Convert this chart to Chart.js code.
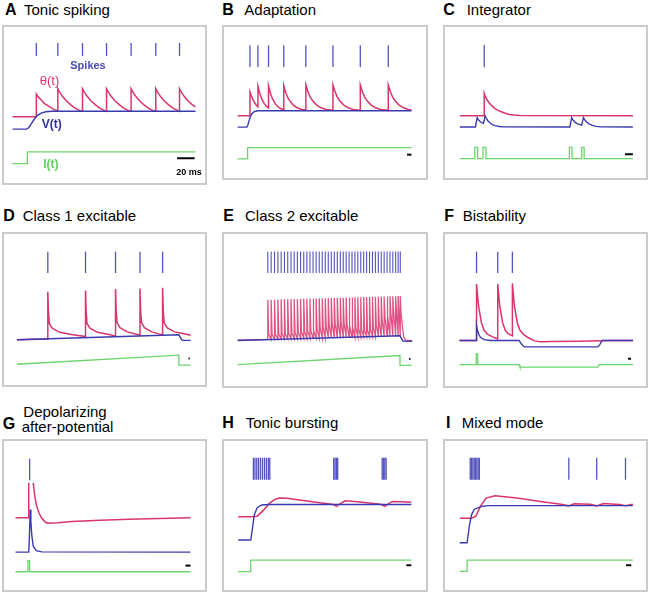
<!DOCTYPE html>
<html>
<head>
<meta charset="utf-8">
<script src="https://cdn.jsdelivr.net/npm/chart.js@4.4.1/dist/chart.umd.min.js"></script>
<style>
    html, body { margin: 0; padding: 0; background: #fff; }
    #fig { position: relative; width: 650px; height: 594px; overflow: hidden;
           font-family: "Liberation Sans", Arial, Helvetica, sans-serif; color: #000; }
    .box { position: absolute; box-sizing: border-box; border: 2px solid #cbcbcb; }
    .box canvas { position: absolute; left: -2px; top: -2px; }
    .lt { position: absolute; font-size: 16px; line-height: 16px; font-weight: bold; white-space: nowrap; }
    .tt { position: absolute; font-size: 15px; line-height: 15px; white-space: nowrap; }
    .lab { position: absolute; font-weight: bold; white-space: nowrap; transform: translate(-50%, -50%); }
</style>
</head>
<body>
<div id="fig"></div>
<script>
// Traces: [time, level] pairs, time in panel units (A: 1 unit = 1 ms), level in arbitrary units

// A - Tonic spiking
const spikesA = [28.7, 52, 78.7, 104.7, 131.3, 158, 183.7];
const thetaA = [[3,67],[28.7,67],[28.7,92],[30.7,89.2],[33.7,85.7],[37.7,81.5],[42.7,78.1],[47.7,75.2],[52,73.5],
    [52,98],[54,94.3],[57,89.6],[61,84.6],[66,80.2],[71,76.3],[76,73.8],[78.7,73],
    [78.7,98],[80.7,94.3],[83.7,89.6],[87.7,84.6],[92.7,80.2],[97.7,76.3],[102.7,73.8],[104.7,73],
    [104.7,98],[106.7,94.3],[109.7,89.6],[113.7,84.6],[118.7,80.2],[123.7,76.3],[128.7,73.8],[131.3,73],
    [131.3,98],[133.3,94.3],[136.3,89.6],[140.3,84.6],[145.3,80.2],[150.3,76.3],[155.3,73.8],[158,73],
    [158,98],[160,94.3],[163,89.6],[167,84.6],[172,80.2],[177,76.3],[182,73.8],[183.7,73],
    [183.7,98],[185.7,94.3],[188.7,89.6],[192.7,84.6],[197.7,80.2],[201,78]];
const vA = [[3,53.3],[18,53.3],[20,54.5],[22,57],[24,60.5],[27,65],[30,68.5],[34,71],[39,72.5],[45,73],[201,73]];
const iA = [[3,15],[19,15],[19,28],[201,28]];
const barA = [[181,21],[200,21]];

// B - Adaptation
const spikesB = [18, 27, 39, 56.3, 81.3, 112, 143, 174.7];
const thetaB = [[4,61.7],[18,61.7],[18,90],[19,87],[20.5,83],[22.5,78.5],[25,74.5],[27,72.5],
    [27,96.7],[28,92.5],[29.5,87],[31.5,81.5],[34,76.5],[36.5,73],[39,71],
    [39,97.3],[40,93],[41.5,87.5],[43.5,82],[46,77],[49,73],[52.5,70.3],[56.3,69],
    [56.3,97.5],[57.3,93.5],[58.8,88.5],[61,83],[64,78],[67.5,74],[72,71],[77,69.2],[81.3,68.5],
    [81.3,98.3],[82.3,95],[83.8,90],[86,84.5],[89,79.5],[93,75],[98,71.5],[104,69.3],[112,68.2],
    [112,98.3],[113,95],[114.5,90],[116.7,84.5],[119.7,79.5],[123.7,75],[128.7,71.5],[134.7,69.3],[143,68.2],
    [143,98.3],[144,95],[145.5,90],[147.7,84.5],[150.7,79.5],[154.7,75],[159.7,71.5],[165.7,69.3],[174.7,68.2],
    [174.7,98.3],[175.7,95],[177.2,90],[179.4,84.5],[182.4,79.5],[186.4,75],[191.4,71.5],[197.4,69.3],[201,68.7]];
const vB = [[4,48.3],[14.5,48.3],[15.5,50.5],[17,56],[18.5,61],[20,64],[22,66],[24.5,67.2],[27,67.7],[201,67.7]];
const iB = [[4,10.7],[15.3,10.7],[15.3,24],[201,24]];
const barB = [[196,15.7],[201,15.7]];

// C - Integrator
const spikesC = [32.7];
const thetaC = [[5,61.7],[32.7,61.7],[32.7,88.3],[34,84.5],[36,80.5],[38.5,77],[41,74],[45,70.3],[50,67.3],
    [55,65.2],[60,63.6],[66,62.5],[73,61.9],[202,61.7]];
const vC = [[5,48.3],[22.7,48.3],[23.7,54],[24.7,59.3],[26,57],[28,54.8],[30,53.5],[31.7,52.8],[32.7,56],[33.7,61.5],
    [35,59],[37,55.5],[39.5,53],[42,51.2],[45,50],[50,48.8],[55,48.4],[130.3,48.3],[131.3,54],[132.3,59.5],
    [133.5,57],[136,54],[139,52],[143.7,50.5],[144.7,55],[145.7,59.5],[147,57],[149,54.5],[152,52],[156,50.2],
    [160,49],[165,48.4],[202,48.3]];
const iC = [[5,10.7],[22,10.7],[22,24],[25.3,24],[25.3,10.7],[31.3,10.7],[31.3,24],[34.7,24],[34.7,10.7],
    [129.7,10.7],[129.7,24],[132.7,24],[132.7,10.7],[143.7,10.7],[143.7,24],[146.5,24],[146.5,10.7],[202,10.7]];
const barC = [[193,15.7],[202,15.7]];

// D - Class 1 excitable
const spikesD = [38.3, 81, 115, 142.7, 168.3];
const thetaD = [[3.3,41.7],[38.3,42.5],[38.3,98.4],[39,76],[40,61],[43.3,55.5],[51.7,50.5],[65,47.8],[81,45.5],
    [81,100],[81.7,76],[82.7,61],[86,55.5],[94.4,50.5],[107.7,47.8],[115,46],
    [115,101.7],[115.7,77],[116.7,62],[120,56],[128.4,51],[142.7,47],
    [142.7,102.3],[143.4,77],[144.4,62],[147.7,56],[156,51],[168.3,47.5],
    [168.3,103.3],[169,77],[170,62],[173.3,56],[181.7,51],[190,49.5],[200,47]];
const vD = [[3.3,41.7],[186.7,47.7],[188,45],[190,41.5],[192,41],[200,41]];
const iD = [[3.3,12.7],[186.7,23.4],[186.7,11.7],[200,11.7]];
const barD = [[197.6,19.4],[199,19.4]];

// E - Class 2 excitable: one row per spike [time, floor, peak, tail]
const spikeRowsE = [
    [38.4,43.4,90.0,49],[42.2,43.5,90.1,49],[46.0,43.6,90.2,49.5],[49.8,43.7,90.3,49.5],[53.5,43.8,90.5,50],
    [57.2,43.9,90.6,50],[60.9,44.0,90.7,50.5],[64.6,44.1,90.8,50.5],[68.2,44.2,90.9,51],[71.8,44.3,91.0,51.5],
    [75.4,44.4,91.1,52],[79.0,44.6,91.2,52.5],[82.5,44.7,91.3,53],[86.0,44.8,91.4,53.5],[89.5,44.9,91.5,54],
    [93.0,45.0,91.6,55],[96.5,45.1,91.7,56],[99.9,45.2,91.8,57],[103.3,45.3,91.9,58.5],[106.7,45.4,92.0,60],
    [110.1,45.5,92.1,61],[113.5,45.6,92.2,61.5],[116.9,45.7,92.3,62],[120.3,45.8,92.4,62],[123.6,45.9,92.5,61.5],
    [126.9,46.0,92.6,61],[130.2,46.1,92.7,60],[133.5,46.2,92.8,58.5],[136.8,46.3,92.9,57],[140.1,46.4,93.0,55.5],
    [143.4,46.5,93.1,54.5],[146.7,46.6,93.2,54],[150.0,46.7,93.3,54],[153.3,46.8,93.4,55],[156.6,46.9,93.5,57],
    [159.9,47.0,93.6,60],[163.2,47.1,93.7,63],[166.5,47.2,93.8,66],[169.8,47.3,93.9,69],[173.1,47.4,94.0,72],
    [176.4,47.5,94.1,74],[179.6,47.6,94.2,75],[182.8,47.6,94.3,75],[185.6,47.7,94.4,74],[188.0,47.7,94.4,72]];
const thetaStartE = [[4.4,42.5]];
const thetaEndE = [[190.5,58],[192,46],[194,42.5],[201.5,42]];
const vE = [[4.4,42],[187.7,47.7],[189.5,44],[191,41.5],[201.5,41]];
const iE = [[4.4,13.7],[187.7,24.4],[187.7,12.7],[200.5,12.7]];
const barE = [[198,20.4],[199.5,20.4]];

// F - Bistability
const spikesF = [24.4, 48.4, 65];
const thetaF = [[5,42],[24.4,42],[24.4,108.7],[25.5,96],[26.7,82.7],[30,62.7],[33,54],[36.7,49.4],[42,46.5],[48.4,43.7],
    [48.4,108.7],[49.5,96],[50.7,82.7],[54,62.7],[57,54],[60,50],[65,47.5],
    [65,109.4],[66.1,96],[67.3,82.7],[70.6,62.7],[73.6,54],[77.3,49.4],[82.6,45.5],[90,41.5],[97,40.6],
    [110,40.7],[140,41],[165,41.7],[175,42],[201.7,42]];
const vF = [[5,42],[24.4,42],[24.4,59.4],[25.5,54],[27,49],[29,45.5],[33,43],[40,42],[72.7,42],[75,38],[78.4,34.4],
    [161.7,34.4],[164,37],[166.7,42],[201.7,42]];
const iF = [[5,13.4],[24,13.4],[24,26],[25.7,26],[25.7,13.4],[72.7,13.4],[73.6,10.4],[161.7,10.4],[163.4,13.4],[201.7,13.4]];
const barF = [[196,20.4],[199.4,20.4]];

// G - Depolarizing after-potential (null = trace leaves the panel)
const spikesG = [17.6];
const thetaG = [[1.6,73.7],[16.6,73.7],[16.6,115.3],null,[21.7,115.3],[23,103],[25,90],[28,80],[31,73.7],[35,69],
    [38,67.3],[50,67.8],[65,69.3],[98,71],[130,72],[165,73],[200,73.7]];
const vG = [[1.6,33],[16.6,33],[17.3,50],[18.3,83.7],[19,70],[20,53.7],[21.6,40.3],[25,34.7],[31.6,33.3],[200,33]];
const iG = [[1.6,9.7],[15.7,9.7],[15.7,23],[17.6,23],[17.6,9.7],[200,9.7]];
const barG = [[194.3,17],[200,17]];

// H - Tonic bursting
const spikesH = [21.7, 23.5, 25.5, 27.5, 29.7, 32, 34.3, 36.5, 38.7, 40.3,
    112.9, 114.4, 115.9, 117.4, 167.9, 169.4, 170.9, 172.4];
const thetaH = [[4.4,75],[19.4,75],[26,75.7],[32.7,82.3],[39.4,90.6],[46,95.6],[51,97.3],[60,97],[76,94.7],[95,92],
    [112.7,89.6],[116,87.3],[118.5,89.5],[126,94],[140,93],[166,90],[171,87.3],[173.5,89.5],[179.4,93.3],[190,93],[201,92.3]];
const vH = [[4.4,47.3],[18.7,47.3],[21,64],[22.7,77.3],[26,85.7],[31,89],[39.4,89.6],[201,89.6]];
const iH = [[4.4,9.6],[18.7,9.6],[18.7,23.3],[201,23.3]];
const barH = [[195.4,17.3],[201,17.3]];

// I - Mixed mode
const spikesI = [17, 18.5, 20, 21.5, 23, 24.5, 26, 27.3, 129, 160.7, 193.4];
const thetaI = [[5,73.3],[18.4,73.3],[23.4,75.6],[28.4,87.3],[35,97.3],[45,100],[70,97.3],[96.7,93.3],[120,90],[129,88],
    [135,90.5],[153.4,90],[160.7,88],[168.4,90.7],[186.7,89.7],[193.4,88],[201.7,90]];
const vI = [[5,44],[13.4,44],[16,64],[18.4,77.3],[21.7,84],[30,87.3],[36.7,88.3],[201.7,88.3]];
const iI = [[5,10],[13.4,10],[13.4,23.3],[201.7,23.3]];
const barI = [[194,17.3],[200,17.3]];

// Colours
const COL_THETA = '#d9346e';
const COL_SPIKE = '#5353c0';
const COL_V = '#3a3aae';
const COL_I = '#6dd36d';

// E threshold trace built from its spike table
const thetaE = [...thetaStartE];
spikeRowsE.forEach(([t, floor, peak, tail]) => {
    thetaE.push([t, floor], [t, peak], [t + 1, tail]);
});
thetaE.push(...thetaEndE);

// Panel layout (box position/size in page pixels)
const panels = [
    { letter: 'A', title: ['Tonic spiking'], x: 2, y: 25, w: 205, h: 160, spikes: spikesA, spikeY: 141.5, spikeR: 6.5,
      theta: thetaA, v: vA, i: iA, bar: barA, letterPos: [5, 1.5], titlePos: [[24, 2.3]] },
    { letter: 'B', title: ['Adaptation'], x: 222, y: 25, w: 206, h: 155, spikes: spikesB, spikeY: 132.5, spikeR: 10.8,
      theta: thetaB, v: vB, i: iB, bar: barB, letterPos: [222.3, 1.5], titlePos: [[244.3, 2.3]] },
    { letter: 'C', title: ['Integrator'], x: 443, y: 25, w: 205, h: 155, spikes: spikesC, spikeY: 132.8, spikeR: 11.2,
      theta: thetaC, v: vC, i: iC, bar: barC, letterPos: [443.3, 1.5], titlePos: [[466.7, 2.3]] },
    { letter: 'D', title: ['Class 1 excitable'], x: 2, y: 232, w: 205, h: 155, spikes: spikesD, spikeY: 133.3, spikeR: 10.7,
      theta: thetaD, v: vD, i: iD, bar: barD, letterPos: [3.3, 207.5], titlePos: [[22.7, 208.3]] },
    { letter: 'E', title: ['Class 2 excitable'], x: 222, y: 232, w: 206, h: 156, spikes: spikeRowsE.map(r => r[0]), spikeY: 134.3, spikeR: 10.7,
      theta: thetaE, v: vE, i: iE, bar: barE, letterPos: [223.3, 207.5], titlePos: [[245, 208.3]], thin: true },
    { letter: 'F', title: ['Bistability'], x: 443, y: 232, w: 205, h: 156, spikes: spikesF, spikeY: 134.3, spikeR: 10.7,
      theta: thetaF, v: vF, i: iF, bar: barF, letterPos: [444.3, 207.5], titlePos: [[462.7, 208.3]] },
    { letter: 'G', title: ['Depolarizing', 'after-potential'], x: 2, y: 439, w: 205, h: 153, spikes: spikesG, spikeY: 131.2, spikeR: 10.8,
      theta: thetaG, v: vG, i: iG, bar: barG, letterPos: [2.7, 415.5], titlePos: [[23.3, 403.8], [21.7, 419.3]] },
    { letter: 'H', title: ['Tonic bursting'], x: 222, y: 439, w: 206, h: 153, spikes: spikesH, spikeY: 132.3, spikeR: 11,
      theta: thetaH, v: vH, i: iH, bar: barH, letterPos: [222.3, 414.5], titlePos: [[245.7, 415.3]] },
    { letter: 'I', title: ['Mixed mode'], x: 443, y: 439, w: 205, h: 153, spikes: spikesI, spikeY: 132.3, spikeR: 11,
      theta: thetaI, v: vI, i: iI, bar: barI, letterPos: [446, 414.5], titlePos: [[461.7, 415.3]] }
];

const fig = document.getElementById('fig');

function addText(cls, text, left, top, extra) {
    const el = document.createElement('div');
    el.className = cls;
    el.textContent = text;
    el.style.left = left + 'px';
    el.style.top = top + 'px';
    if (extra) Object.assign(el.style, extra);
    fig.appendChild(el);
    return el;
}

// [x, y] pairs -> chart points, null -> gap
function toPoints(pairs) {
    let lastX = 0;
    return pairs.map(p => {
        if (p === null) return { x: lastX, y: null };
        lastX = p[0];
        return { x: p[0], y: p[1] };
    });
}

function lineSet(pairs, color, width, order) {
    return {
        data: toPoints(pairs),
        borderColor: color,
        borderWidth: width,
        pointRadius: 0,
        tension: 0,
        spanGaps: false,
        fill: false,
        order: order
    };
}

panels.forEach(p => {
    // titles
    addText('lt', p.letter, p.letterPos[0], p.letterPos[1]);
    p.title.forEach((t, k) => addText('tt', t, p.titlePos[k][0], p.titlePos[k][1]));

    const box = document.createElement('div');
    box.className = 'box';
    box.style.left = p.x + 'px';
    box.style.top = p.y + 'px';
    box.style.width = p.w + 'px';
    box.style.height = p.h + 'px';
    const canvas = document.createElement('canvas');
    canvas.width = p.w;
    canvas.height = p.h;
    canvas.style.width = p.w + 'px';
    canvas.style.height = p.h + 'px';
    box.appendChild(canvas);
    fig.appendChild(box);

    const spikeSet = {
        data: p.spikes.map(t => ({ x: t, y: p.spikeY })),
        showLine: false,
        pointStyle: 'line',
        pointRotation: 90,
        pointRadius: p.spikeR,
        pointBorderColor: COL_SPIKE,
        pointBorderWidth: p.thin ? 1.1 : 1.3,
        pointBackgroundColor: COL_SPIKE,
        order: 0
    };

    new Chart(canvas.getContext('2d'), {
        type: 'line',
        data: {
            datasets: [
                spikeSet,
                lineSet(p.bar, '#000', 2, 0),
                lineSet(p.v, COL_V, 1.4, 1),
                lineSet(p.theta, p.thin ? 'rgba(217, 52, 110, 0.85)' : COL_THETA, p.thin ? 1.3 : 1.5, 2),
                lineSet(p.i, COL_I, 1.3, 3)
            ]
        },
        options: {
            responsive: false,
            animation: false,
            devicePixelRatio: window.devicePixelRatio || 1,
            layout: { padding: 0 },
            events: [],
            plugins: {
                legend: { display: false },
                tooltip: { enabled: false }
            },
            scales: {
                x: { type: 'linear', min: 0, max: p.w, display: false },
                y: { type: 'linear', min: 0, max: p.h, display: false }
            }
        }
    });
});

// labels of panel A
addText('lab', 'Spikes', 88, 65, { fontSize: '11px', color: '#4a4ab8' });
addText('lab', 'θ(t)', 49.5, 80, { fontSize: '13px', color: COL_THETA, fontWeight: 'normal' });
addText('lab', 'V(t)', 51.7, 123.5, { fontSize: '12px', color: '#2f2f9e' });
addText('lab', 'I(t)', 50.8, 164, { fontSize: '12px', color: '#5fcf5f' });
addText('lab', '20 ms', 189, 172, { fontSize: '9px', color: '#000' });
</script>
</body>
</html>
